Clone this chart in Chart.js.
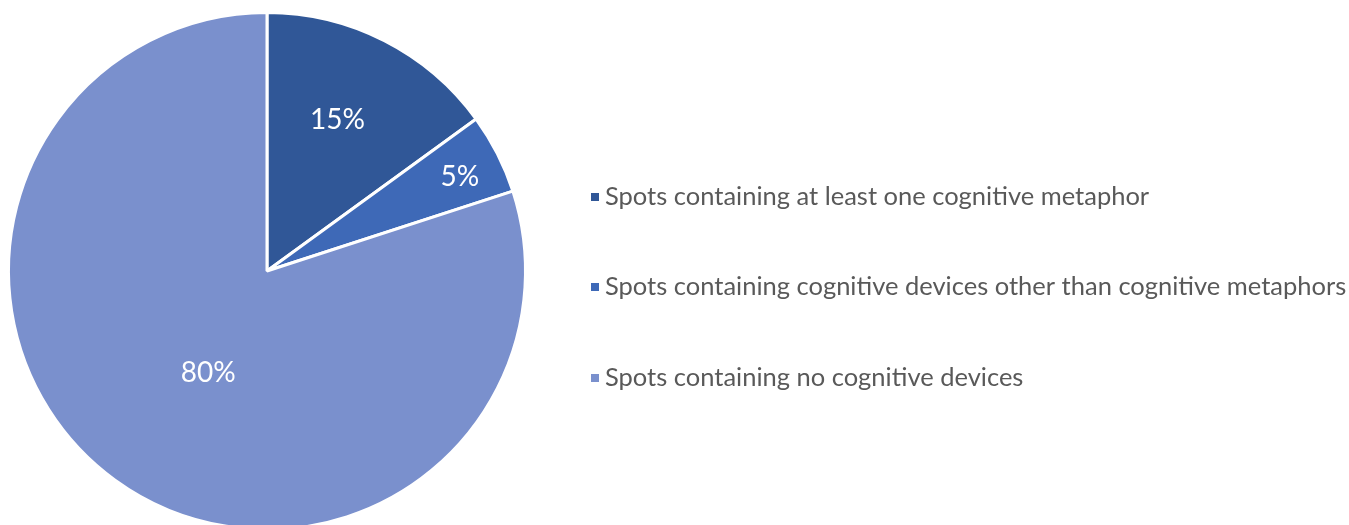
<!DOCTYPE html>
<html><head><meta charset="utf-8">
<script src="https://cdn.jsdelivr.net/npm/chart.js@4/dist/chart.umd.min.js"></script>
<style>html,body{margin:0;padding:0;background:#fff;overflow:hidden;width:1349px;height:525px}#wrap{width:1349px;height:525px;position:relative;overflow:hidden}</style>
</head><body><div id="wrap"><canvas id="c" width="1349" height="560"></canvas></div>
<script>
const categories = [
  "Spots containing at least one cognitive metaphor",
  "Spots containing cognitive devices other than cognitive metaphors",
  "Spots containing no cognitive devices"
];
const values = [15, 5, 80];
const valueLabels = ["15%", "5%", "80%"];
const colors = ["#305797", "#3E69B7", "#7A90CD"];
const labelRadiusFrac = [0.645, 0.83, 0.455];
const labelAngleOffsetDeg = [-2, 1, -6];

const FONT = "Lato, 'Open Sans', sans-serif";

const overlay = {
  id: 'overlay',
  afterDatasetsDraw(chart) {
    const ctx = chart.ctx;
    const meta = chart.getDatasetMeta(0);
    ctx.save();
    ctx.fillStyle = '#ffffff';
    ctx.font = '28px ' + FONT;
    ctx.textAlign = 'center';
    ctx.textBaseline = 'middle';
    meta.data.forEach((arc, i) => {
      const p = arc.getProps(['x','y','startAngle','endAngle','outerRadius'], true);
      const mid = (p.startAngle + p.endAngle) / 2 + labelAngleOffsetDeg[i] * Math.PI / 180;
      const r = p.outerRadius * labelRadiusFrac[i];
      ctx.fillText(valueLabels[i], p.x + Math.cos(mid) * r, p.y + Math.sin(mid) * r);
    });
    // legend
    ctx.font = '25.5px ' + FONT;
    ctx.textAlign = 'left';
    const ys = [197, 287, 378];
    categories.forEach((c, i) => {
      ctx.fillStyle = colors[i];
      ctx.fillRect(591, ys[i] - 4, 8, 8);
      ctx.fillStyle = '#595959';
      ctx.fillText(c, 605, ys[i]);
    });
    ctx.restore();
  }
};

new Chart(document.getElementById('c'), {
  type: 'pie',
  data: {
    labels: categories,
    datasets: [{
      data: values,
      backgroundColor: colors,
      borderColor: '#ffffff',
      borderWidth: 3
    }]
  },
  options: {
    responsive: false,
    animation: false,
    layout: { padding: { left: 7, top: 11, right: 822, bottom: 29 } },
    plugins: { legend: { display: false }, tooltip: { enabled: false } }
  },
  plugins: [overlay]
});
</script>
</body></html>
